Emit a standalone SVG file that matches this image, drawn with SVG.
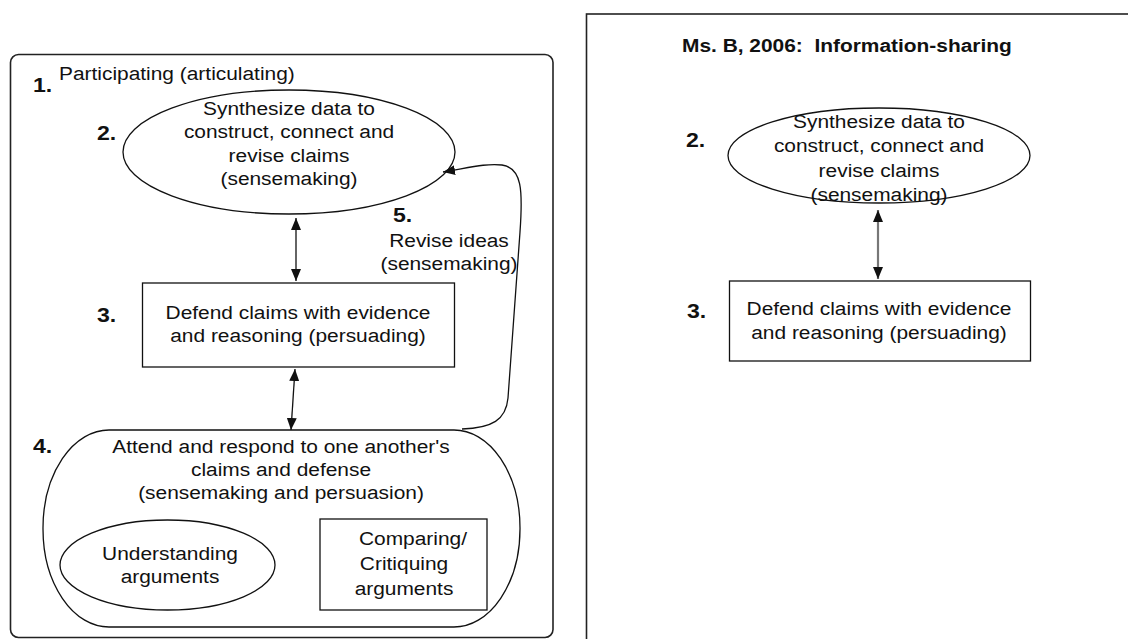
<svg xmlns="http://www.w3.org/2000/svg" width="1128" height="639" viewBox="0 0 1128 639">
  <style>
    .t { font-family: "Liberation Sans", Arial, sans-serif; font-size: 19px; fill: #111; text-anchor: middle; }
    .l { text-anchor: start; }
    .n { font-family: "Liberation Sans", Arial, sans-serif; font-size: 21px; font-weight: bold; fill: #111; }
    .h { font-family: "Liberation Sans", Arial, sans-serif; font-size: 19px; font-weight: bold; fill: #111; }
    .frame { fill: none; stroke: #222; stroke-width: 1.6; }
    .shape { fill: #fff; stroke: #111; stroke-width: 1.3; }
    .edge { fill: none; stroke: #111; stroke-width: 1.3; }
    .edge-grey { fill: none; stroke: #777; stroke-width: 2.2; }
  </style>
  <defs>
    <marker id="head" viewBox="0 0 12 10" refX="12" refY="5" markerWidth="12" markerHeight="10" markerUnits="userSpaceOnUse" orient="auto-start-reverse">
      <path d="M0,0 L12,5 L0,10 Z" fill="#111"/>
    </marker>
  </defs>

  <rect width="1128" height="639" fill="#fff"/>

  <!-- left panel: participating -->
  <g id="panel-left">
    <rect class="frame" x="10.5" y="54.5" width="542.5" height="583" rx="8" ry="8"/>
    <text class="n" transform="translate(33 92) scale(1.1 1)">1.</text>
    <text class="t l" transform="translate(59 80) scale(1.1 1)">Participating (articulating)</text>
  </g>

  <g id="node-2-left">
    <ellipse class="shape" cx="289" cy="152" rx="166" ry="62"/>
    <text class="n" transform="translate(97 140) scale(1.1 1)">2.</text>
    <text class="t" transform="translate(289 115) scale(1.1 1)"><tspan x="0">Synthesize data to</tspan><tspan x="0" dy="23.5">construct, connect and</tspan><tspan x="0" dy="23.5">revise claims</tspan><tspan x="0" dy="23.5">(sensemaking)</tspan></text>
  </g>

  <g id="node-3-left">
    <rect class="shape" x="142.5" y="283" width="312" height="84"/>
    <text class="n" transform="translate(97 322) scale(1.1 1)">3.</text>
    <text class="t" transform="translate(298 319) scale(1.1 1)"><tspan x="0">Defend claims with evidence</tspan><tspan x="0" dy="23.5">and reasoning (persuading)</tspan></text>
  </g>

  <g id="node-4">
    <rect class="shape" x="43" y="430" width="477" height="197" rx="66" ry="98"/>
    <text class="n" transform="translate(33 453) scale(1.1 1)">4.</text>
    <text class="t" transform="translate(281 453) scale(1.1 1)"><tspan x="0">Attend and respond to one another's</tspan><tspan x="0" dy="23">claims and defense</tspan><tspan x="0" dy="23">(sensemaking and persuasion)</tspan></text>
  </g>

  <g id="node-understanding">
    <ellipse class="shape" cx="167.5" cy="565" rx="107.5" ry="45"/>
    <text class="t" transform="translate(170 560) scale(1.1 1)"><tspan x="0">Understanding</tspan><tspan x="0" dy="23">arguments</tspan></text>
  </g>

  <g id="node-comparing">
    <rect class="shape" x="320" y="519" width="167" height="91"/>
    <text class="t" transform="translate(413 545) scale(1.1 1)">Comparing/</text>
    <text class="t" transform="translate(404 570) scale(1.1 1)"><tspan x="0">Critiquing</tspan><tspan x="0" dy="25">arguments</tspan></text>
  </g>

  <g id="label-5">
    <text class="n" transform="translate(393 222) scale(1.1 1)">5.</text>
    <text class="t" transform="translate(449 247) scale(1.1 1)"><tspan x="0">Revise ideas</tspan><tspan x="0" dy="23.5">(sensemaking)</tspan></text>
  </g>

  <!-- right panel: information-sharing -->
  <g id="panel-right">
    <rect class="frame" x="586.5" y="14" width="600" height="700"/>
    <text class="h" xml:space="preserve" transform="translate(682 52) scale(1.1 1)">Ms. B, 2006:  Information-sharing</text>
  </g>

  <g id="node-2-right">
    <ellipse class="shape" cx="879" cy="155.5" rx="151" ry="47.5"/>
    <text class="n" transform="translate(686 147) scale(1.1 1)">2.</text>
    <text class="t" transform="translate(879 128) scale(1.1 1)"><tspan x="0">Synthesize data to</tspan><tspan x="0" dy="24.5">construct, connect and</tspan><tspan x="0" dy="24.5">revise claims</tspan><tspan x="0" dy="24.5">(sensemaking)</tspan></text>
  </g>

  <g id="node-3-right">
    <rect class="shape" x="729.5" y="281" width="301" height="80"/>
    <text class="n" transform="translate(687 318) scale(1.1 1)">3.</text>
    <text class="t" transform="translate(879 315) scale(1.1 1)"><tspan x="0">Defend claims with evidence</tspan><tspan x="0" dy="24">and reasoning (persuading)</tspan></text>
  </g>

  <!-- connectors -->
  <g id="connectors">
    <path class="edge" d="M296,218 L296,281" marker-start="url(#head)" marker-end="url(#head)"/>
    <path class="edge" d="M295,369 L291,430" marker-start="url(#head)" marker-end="url(#head)"/>
    <path class="edge" d="M462,429 C492,428 506,420 508,398 L520,232 C523,190 522,168 502,165 C486,163 468,168 443,172" marker-end="url(#head)"/>
    <path class="edge-grey" d="M878,210 L878,279" marker-start="url(#head)" marker-end="url(#head)"/>
  </g>
</svg>
